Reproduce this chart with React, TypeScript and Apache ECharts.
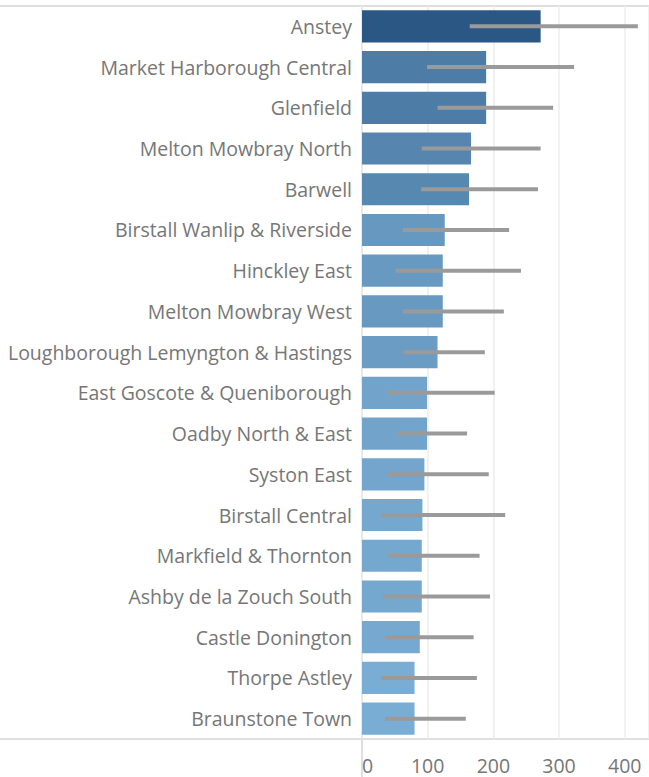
import React, { useEffect, useRef } from "react";
import * as echarts from "echarts";

const categories = [
  "Anstey",
  "Market Harborough Central",
  "Glenfield",
  "Melton Mowbray North",
  "Barwell",
  "Birstall Wanlip & Riverside",
  "Hinckley East",
  "Melton Mowbray West",
  "Loughborough Lemyngton & Hastings",
  "East Goscote & Queniborough",
  "Oadby North & East",
  "Syston East",
  "Birstall Central",
  "Markfield & Thornton",
  "Ashby de la Zouch South",
  "Castle Donington",
  "Thorpe Astley",
  "Braunstone Town",
];

const values = [272, 189, 189, 166, 163, 126, 123, 123, 115, 99, 99, 95, 92, 91, 91, 88, 80, 80];
const lowerBounds = [164, 99, 115, 91, 90, 62, 51, 62, 63, 39, 54, 38, 29, 39, 32, 36, 29, 35];
const upperBounds = [420, 323, 291, 272, 268, 224, 242, 216, 187, 202, 160, 193, 218, 179, 195, 170, 175, 158];

const xTicks = { min: 0, max: 437, interval: 100 };

function lerpColor(v: number, vmin: number, vmax: number) {
  const light = [122, 173, 211];
  const dark = [42, 87, 131];
  const t = Math.max(0, Math.min(1, (v - vmin) / (vmax - vmin)));
  const c = light.map((l, i) => Math.round(l + (dark[i] - l) * t));
  return `rgb(${c[0]},${c[1]},${c[2]})`;
}

export default function App() {
  const ref = useRef<HTMLDivElement>(null);
  useEffect(() => {
    if (!ref.current) return;
    const chart = echarts.init(ref.current, null, { renderer: "svg" });
    const vmin = Math.min(...values);
    const vmax = Math.max(...values);
    const font = "'Open Sans', 'Noto Sans', sans-serif";
    chart.setOption({
      animation: false,
      grid: { left: 362, right: 0, top: 6, bottom: 38, containLabel: false },
      xAxis: {
        type: "value",
        min: xTicks.min,
        max: xTicks.max,
        interval: xTicks.interval,
        axisLine: { show: false },
        axisTick: { show: false },
        splitLine: { show: true, lineStyle: { color: "#ececec", width: 1.5 } },
        axisLabel: {
          color: "#767676",
          fontSize: 19.5,
          fontFamily: font,
          margin: 16,
          showMaxLabel: false,
          alignMinLabel: "left",
        },
      },
      yAxis: {
        type: "category",
        data: categories,
        inverse: true,
        axisLine: { show: false },
        axisTick: { show: false },
        splitLine: { show: false },
        axisLabel: {
          color: "#767676",
          fontSize: 19.5,
          fontFamily: font,
          margin: 10,
        },
      },
      series: [
        {
          type: "bar",
          data: values.map((v) => ({ value: v, itemStyle: { color: lerpColor(v, vmin, vmax) } })),
          barCategoryGap: "21%",
          silent: true,
        },
        {
          type: "custom",
          coordinateSystem: "cartesian2d",
          silent: true,
          encode: { x: [0, 1], y: 2 },
          data: categories.map((c, i) => [lowerBounds[i], upperBounds[i], i]),
          renderItem: (params: any, api: any) => {
            const lo = api.coord([api.value(0), api.value(2)]);
            const hi = api.coord([api.value(1), api.value(2)]);
            return {
              type: "rect",
              shape: { x: lo[0], y: lo[1] - 2, width: hi[0] - lo[0], height: 4 },
              style: { fill: "#9a9a9a" },
            };
          },
          z: 3,
        },
      ],
      graphic: [
        { type: "line", shape: { x1: 0, y1: 6, x2: 649, y2: 6 }, style: { stroke: "#d4d4d4", lineWidth: 1.5 }, silent: true },
        { type: "line", shape: { x1: 0, y1: 739, x2: 649, y2: 739 }, style: { stroke: "#d4d4d4", lineWidth: 1.5 }, silent: true },
        { type: "line", shape: { x1: 362, y1: 6, x2: 362, y2: 777 }, style: { stroke: "#d4d4d4", lineWidth: 1.5 }, silent: true },
      ],
    });
    return () => chart.dispose();
  }, []);
  return (
    <div
      ref={ref}
      style={{ position: "fixed", left: 0, top: 0, width: 649, height: 777, background: "#fff" }}
    />
  );
}
